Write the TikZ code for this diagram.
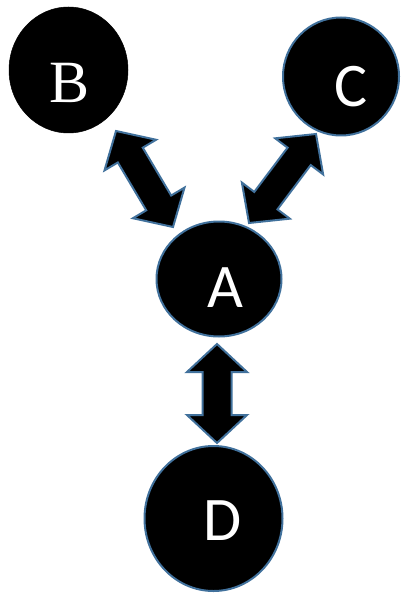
\documentclass[tikz,border=0pt]{standalone}
\usepackage{fontspec}
\setmainfont{Liberation Serif}
\newfontfamily\calfont{Carlito}
\usetikzlibrary{calc,shapes.geometric}
\definecolor{edgeblue}{RGB}{65,113,156}
\tikzset{
  disc/.style={ellipse, fill=black, draw=edgeblue, line width=2pt, inner sep=0pt},
  discB/.style={ellipse, fill=black, draw=black, line width=0.5pt, inner sep=0pt},
  lab/.style={text=white, inner sep=0pt, font=\calfont\fontsize{62}{62}\selectfont},
  labB/.style={text=white, inner sep=0pt, font=\fontsize{60}{60}\selectfont},
  blk/.style={fill=black, draw=edgeblue, line width=2pt, line join=miter}
}
\newcommand\blockarrow[2]{%
  \coordinate (b1) at ($(#1)!28pt!(#2)$);
  \coordinate (b2) at ($(#2)!28pt!(#1)$);
  \draw[blk] (#1)
    -- ($(b1)!30pt!90:(#2)$) -- ($(b1)!14.5pt!90:(#2)$)
    -- ($(b2)!14.5pt!90:(#2)$) -- ($(b2)!30pt!90:(#2)$)
    -- (#2)
    -- ($(b2)!30pt!-90:(#2)$) -- ($(b2)!14.5pt!-90:(#2)$)
    -- ($(b1)!14.5pt!-90:(#2)$) -- ($(b1)!30pt!-90:(#2)$)
    -- cycle;
}
\begin{document}
\begin{tikzpicture}[x=1pt,y=-1pt]
\useasboundingbox (0,0) rectangle (401,596);
\node[discB, minimum width=119pt, minimum height=126pt] (B) at (68.5,70) {};
\node[disc, minimum width=116pt, minimum height=118pt] (C) at (341,76.5) {};
\node[disc, minimum width=125pt, minimum height=115pt] (A) at (219,279) {};
\node[disc, minimum width=138pt, minimum height=145pt] (D) at (213.5,518.5) {};
\node[labB] (tB) at (70,83) {B};
\node[lab] (tC) at (351,86.5) {C};
\node[lab] (tA) at (225,288) {A};
\node[lab] (tD) at (223,521) {D};
\coordinate (ba1) at (116,131);
\coordinate (ba2) at (173,227);
\coordinate (ca1) at (316,134);
\coordinate (ca2) at (249,223);
\coordinate (ad1) at (217,344);
\coordinate (ad2) at (217,443);
\blockarrow{ba1}{ba2}
\blockarrow{ca1}{ca2}
\blockarrow{ad1}{ad2}
\end{tikzpicture}
\end{document}
